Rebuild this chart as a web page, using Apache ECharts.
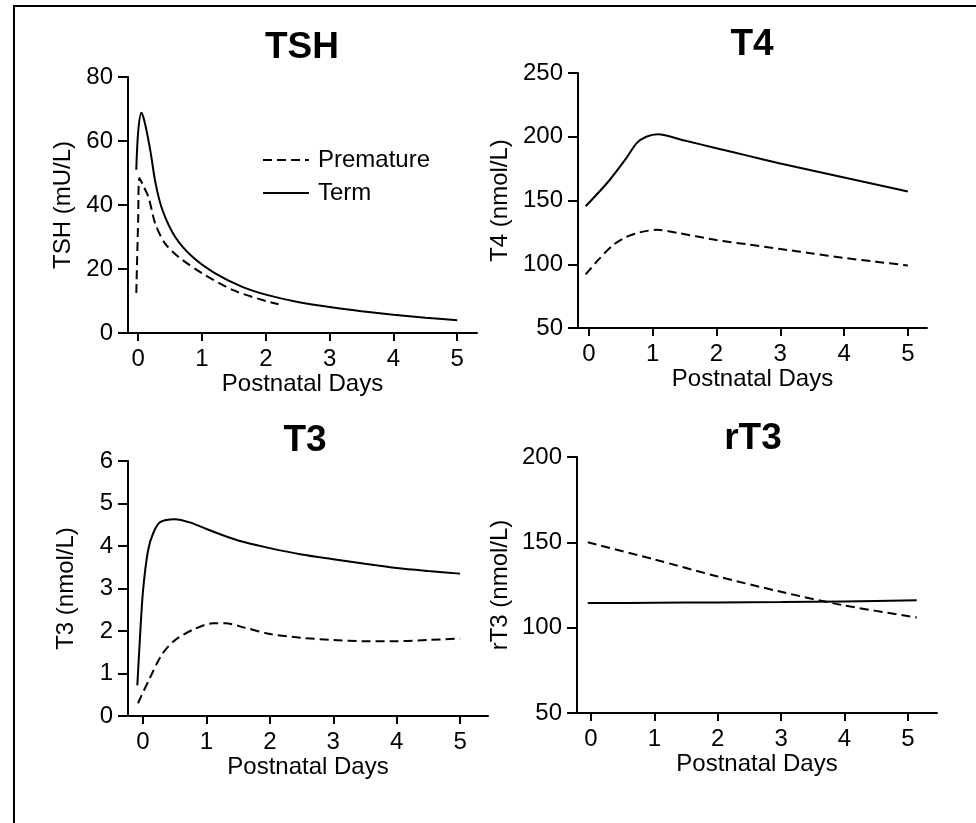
<!DOCTYPE html>
<html>
<head>
<meta charset="utf-8">
<title>Neonatal thyroid hormones</title>
<script src="https://cdn.jsdelivr.net/npm/echarts@6/dist/echarts.min.js"></script>
<style>
  html, body { margin: 0; padding: 0; background: #fff; }
  #chart { width: 976px; height: 823px; }
</style>
</head>
<body>
<div id="chart"></div>
<script>
// tick labels shared by every panel
const dayTicks = [0, 1, 2, 3, 4, 5];

// TSH (mU/L), [postnatal day, value]
const tshTerm = [[-0.03, 51], [0.0, 63], [0.05, 68.8], [0.1, 66], [0.19, 57], [0.27, 47], [0.38, 38.4],
  [0.58, 30], [0.85, 23.8], [1.2, 18.7], [1.63, 14.4], [2.0, 12], [2.5, 9.7], [3.0, 8.1],
  [3.5, 6.8], [4.0, 5.7], [4.5, 4.8], [5.0, 4]];
const tshPremature = [[-0.03, 12.5], [0.0, 36], [0.02, 48.4], [0.08, 46], [0.16, 42.5], [0.27, 34],
  [0.42, 28], [0.63, 23.8], [1.0, 18.7], [1.5, 13.3], [2.0, 10], [2.2, 9]];

// T4 (nmol/L)
const t4Term = [[-0.05, 145.5], [0.3, 164.5], [0.57, 182], [0.75, 195], [0.9, 200], [1.08, 202],
  [1.5, 197], [2.0, 191], [2.5, 185], [3.0, 179], [3.5, 173.5], [4.0, 168], [4.5, 162.5], [5.0, 157]];
const t4Premature = [[-0.05, 92], [0.14, 103], [0.38, 115], [0.57, 121], [0.8, 125], [1.07, 127],
  [1.4, 124.5], [2.0, 119], [2.5, 115.5], [3.0, 112], [3.5, 108.5], [4.0, 105], [4.5, 102], [5.0, 99]];

// T3 (nmol/L)
const t3Term = [[-0.09, 0.72], [-0.05, 1.8], [0.0, 2.95], [0.08, 3.9], [0.16, 4.3], [0.27, 4.56],
  [0.5, 4.63], [0.75, 4.55], [1.0, 4.4], [1.5, 4.13], [2.0, 3.95], [2.5, 3.8], [3.0, 3.69],
  [3.5, 3.58], [4.0, 3.48], [4.5, 3.41], [5.0, 3.35]];
const t3Premature = [[-0.08, 0.3], [0.1, 0.87], [0.3, 1.45], [0.5, 1.78], [0.8, 2.04], [1.1, 2.18],
  [1.3, 2.18], [1.6, 2.08], [2.0, 1.93], [2.5, 1.84], [3.0, 1.79], [3.5, 1.76], [4.0, 1.76],
  [4.5, 1.79], [5.0, 1.82]];

// rT3 (nmol/L)
const rt3Term = [[-0.05, 114.4], [1.0, 114.6], [2.0, 114.8], [3.0, 115], [4.0, 115.4], [5.14, 116]];
const rt3Premature = [[-0.05, 150], [1.0, 140], [2.0, 130], [3.0, 121], [4.0, 113], [5.14, 106]];

const FONT = '"Liberation Sans", Arial, Helvetica, sans-serif';
const FS = 24;

const chart = echarts.init(document.getElementById('chart'), null, { renderer: 'canvas' });

function makeX(idx, min, max) {
  return {
    type: 'value', gridIndex: idx, min: min, max: max,
    name: 'Postnatal Days', nameLocation: 'middle', nameGap: 38,
    nameTextStyle: { color: '#000', fontSize: FS, fontFamily: FONT },
    axisLine: { onZero: false, lineStyle: { color: '#000', width: 2 } },
    axisTick: { customValues: dayTicks, length: 8, lineStyle: { color: '#000', width: 2 } },
    axisLabel: { customValues: dayTicks, margin: 14, color: '#000', fontSize: FS, fontFamily: FONT },
    splitLine: { show: false }
  };
}

function makeY(idx, min, max, step, name, gap) {
  return {
    type: 'value', gridIndex: idx, min: min, max: max, interval: step,
    name: name, nameLocation: 'middle', nameGap: gap,
    nameTextStyle: { color: '#000', fontSize: FS, fontFamily: FONT },
    axisLine: { show: true, onZero: false, lineStyle: { color: '#000', width: 2 } },
    axisTick: { show: true, length: 10, lineStyle: { color: '#000', width: 2 } },
    axisLabel: { margin: 15, color: '#000', fontSize: FS, fontFamily: FONT },
    splitLine: { show: false }
  };
}

function line(name, idx, data, dashed) {
  return {
    name: name, type: 'line', xAxisIndex: idx, yAxisIndex: idx, data: data,
    symbol: 'none', smooth: 0.3,
    lineStyle: { color: '#000', width: 2, type: dashed ? [9, 5] : 'solid' },
    itemStyle: { color: '#000' }
  };
}

function title(text, x, y) {
  return {
    text: text, left: x, top: y, textAlign: 'center',
    textStyle: { color: '#000', fontSize: 37, fontWeight: 'bold', fontFamily: FONT }
  };
}

chart.setOption({
  animation: false,
  backgroundColor: '#fff',
  title: [
    title('TSH', 297, 24),
    title('T4', 747, 21),
    title('T3', 300, 417),
    title('rT3', 748, 415)
  ],
  legend: {
    data: ['Premature', 'Term'],
    orient: 'vertical', left: 257, top: 143,
    itemWidth: 46, itemHeight: 14, itemGap: 9,
    itemStyle: { opacity: 0 },
    textStyle: { color: '#000', fontSize: FS, fontFamily: FONT, padding: [0, 0, 0, 4] }
  },
  grid: [
    { left: 128, top: 77, width: 349, height: 256 },
    { left: 578, top: 73, width: 349, height: 255 },
    { left: 128, top: 461, width: 360, height: 255 },
    { left: 577, top: 457, width: 360, height: 256 }
  ],
  xAxis: [
    makeX(0, -0.16, 5.31),
    makeX(1, -0.17, 5.30),
    makeX(2, -0.237, 5.44),
    makeX(3, -0.22, 5.46)
  ],
  yAxis: [
    makeY(0, 0, 80, 20, 'TSH (mU/L)', 53),
    makeY(1, 50, 250, 50, 'T4 (nmol/L)', 66),
    makeY(2, 0, 6, 1, 'T3 (nmol/L)', 50),
    makeY(3, 50, 200, 50, 'rT3 (nmol/L)', 65)
  ],
  graphic: [
    // outer frame: only top and left edges fall inside the picture
    { type: 'rect', shape: { x: 14, y: 6, width: 1200, height: 1200 },
      style: { fill: 'none', stroke: '#000', lineWidth: 2 }, silent: true }
  ],
  series: [
    line('Premature', 0, tshPremature, true),
    line('Term', 0, tshTerm, false),
    line('Premature', 1, t4Premature, true),
    line('Term', 1, t4Term, false),
    line('Premature', 2, t3Premature, true),
    line('Term', 2, t3Term, false),
    line('Premature', 3, rt3Premature, true),
    line('Term', 3, rt3Term, false)
  ]
});
</script>
</body>
</html>
